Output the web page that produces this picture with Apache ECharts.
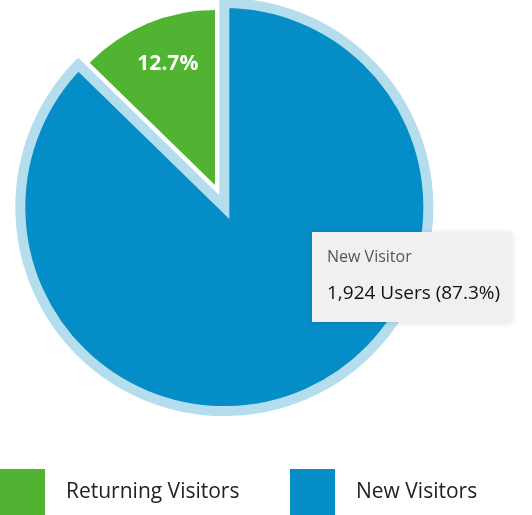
<!DOCTYPE html>
<html><head><meta charset="utf-8">
<script src="https://cdn.jsdelivr.net/npm/echarts@6/dist/echarts.min.js"></script>
<style>html,body{margin:0;padding:0;background:#fff}#c{width:532px;height:515px}</style>
</head><body><div id="c"></div>
<script>
const categories = ['Returning Visitors', 'New Visitors'];
const tooltipTitles = ['Returning Visitor', 'New Visitor'];
const users = [280, 1924];
const colors = ['#50b432', '#058dc7'];
const FONT = '"Open Sans", sans-serif';
const CSSFONT = "'Open Sans', sans-serif";

const legendBase = {
  top: 469,
  padding: 0,
  itemWidth: 45,
  itemHeight: 46,
  icon: 'rect',
  textStyle: { fontFamily: FONT, fontSize: 21, color: '#222', padding: [0, 0, 0, 16] }
};

const chart = echarts.init(document.getElementById('c'));
chart.setOption({
  animation: false,
  tooltip: {
    trigger: 'item',
    alwaysShowContent: true,
    position: [312, 232],
    backgroundColor: '#f0f0f0',
    borderWidth: 0,
    padding: [13, 15, 18, 15],
    extraCssText: 'box-shadow:0 1px 6px rgba(0,0,0,0.12);border-radius:0;width:170px;',
    formatter: p => '<div style="font-family:' + CSSFONT + ';font-size:16px;color:#555;line-height:22px">' + tooltipTitles[p.dataIndex] + '</div>' +
      '<div style="font-family:' + CSSFONT + ';font-size:19px;color:#111;line-height:24px;margin-top:13px">' + p.value.toLocaleString('en-US') + ' Users (' + p.percent + '%)</div>'
  },
  legend: [
    Object.assign({}, legendBase, { left: 0, data: [categories[0]] }),
    Object.assign({}, legendBase, { left: 290, data: [categories[1]] })
  ],
  series: [{
    type: 'pie',
    center: [215, 185],
    radius: 175,
    startAngle: 90,
    clockwise: false,
    percentPrecision: 1,
    selectedMode: 'single',
    selectedOffset: 24,
    legendHoverLink: false,
    emphasis: {
      scale: true,
      scaleSize: 29,
      itemStyle: { borderColor: '#b4ddee', borderWidth: 10, borderJoin: 'miter', borderMiterLimit: 20 }
    },
    labelLine: { show: false },
    data: categories.map((n, i) => ({
      name: n,
      value: users[i],
      selected: i === 1,
      itemStyle: { color: colors[i] },
      label: i === 0 ? {
        show: true, position: 'inside', formatter: '{d}%', color: '#fff',
        fontFamily: FONT, fontSize: 21, fontWeight: 'bold', offset: [-12, -38]
      } : { show: false },
      emphasis: i === 1 ? { label: { show: false }, itemStyle: { color: colors[i] } } : {}
    }))
  }]
});
chart.dispatchAction({ type: 'highlight', seriesIndex: 0, dataIndex: 1 });
chart.dispatchAction({ type: 'showTip', seriesIndex: 0, dataIndex: 1 });
</script></body></html>
